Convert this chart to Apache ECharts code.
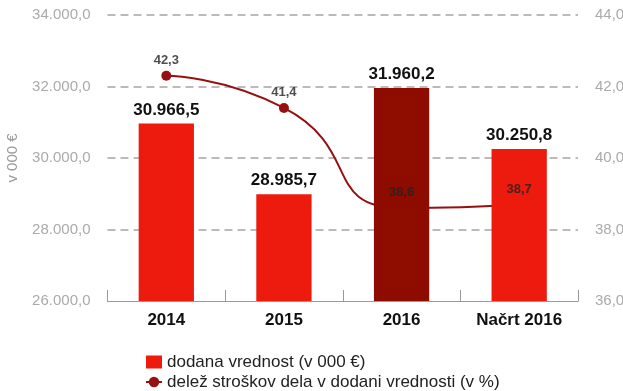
<!DOCTYPE html>
<html>
<head>
<meta charset="utf-8">
<script src="https://cdn.jsdelivr.net/npm/echarts@6/dist/echarts.min.js"></script>
<style>
  html, body { margin: 0; padding: 0; background: #fff; }
  #chart { width: 623px; height: 391px; }
</style>
</head>
<body>
<div id="chart"></div>
<script>
// Categories and series values
const categories = ['2014', '2015', '2016', 'Načrt 2016'];
const addedValue = [30966.5, 28985.7, 31960.2, 30250.8];
const laborShare = [42.3, 41.4, 38.6, 38.7];
const barColors = ['#ec1b0e', '#ec1b0e', '#8e0b00', '#ec1b0e'];

const barName = 'dodana vrednost (v 000 €)';
const lineName = 'delež stroškov dela v dodani vrednosti (v %)';

// Slovenian number format: "." thousands, "," decimals
function fmt(v, dec) {
  const parts = v.toFixed(dec).split('.');
  parts[0] = parts[0].replace(/\B(?=(\d{3})+(?!\d))/g, '.');
  return parts.join(',');
}

const FONT = '"Liberation Sans", Arial, sans-serif';
const chart = echarts.init(document.getElementById('chart'));

chart.setOption({
  animation: false,
  textStyle: { fontFamily: FONT },
  grid: { left: 107.5, right: 45, top: 15, bottom: 90, outerBoundsMode: 'none' },
  legend: {
    orient: 'vertical',
    left: 145,
    top: 352,
    height: 60,
    padding: 0,
    itemGap: 0,
    itemWidth: 16,
    itemHeight: 13,
    textStyle: { fontSize: 17, lineHeight: 20, color: '#222', fontFamily: FONT },
    data: [
      { name: barName, icon: 'rect', itemStyle: { color: '#ec1b0e' } },
      { name: lineName }
    ]
  },
  xAxis: {
    type: 'category',
    data: categories,
    axisLine: { lineStyle: { color: '#999', width: 1 } },
    axisTick: { show: true, inside: true, length: 11, lineStyle: { color: '#999' } },
    axisLabel: { fontSize: 17, fontWeight: 'bold', color: '#111', margin: 11 }
  },
  yAxis: [
    {
      type: 'value',
      min: 26000, max: 34000, interval: 2000,
      name: 'v 000 €',
      nameLocation: 'middle',
      nameGap: 87,
      nameRotate: 90,
      nameTextStyle: { color: '#999', fontSize: 15 },
      axisLine: { show: false },
      axisTick: { show: false },
      axisLabel: {
        color: '#aaa', fontSize: 15, margin: 17,
        formatter: v => fmt(v, 1)
      },
      splitLine: { showMinLine: false, lineStyle: { color: '#bbb', width: 2, type: [8, 5] } }
    },
    {
      type: 'value',
      min: 36, max: 44, interval: 2,
      position: 'right',
      axisLine: { show: false },
      axisTick: { show: false },
      axisLabel: {
        color: '#aaa', fontSize: 15, margin: 17,
        formatter: v => fmt(v, 1)
      },
      splitLine: { show: false }
    }
  ],
  series: [
    {
      name: lineName,
      type: 'line',
      yAxisIndex: 1,
      z: 1,
      smooth: 0.6,
      data: laborShare,
      symbol: 'circle',
      symbolSize: 10,
      lineStyle: { color: '#951010', width: 2 },
      itemStyle: { color: '#951010' },
      label: { show: false }
    },
    {
      name: barName,
      type: 'bar',
      yAxisIndex: 0,
      z: 2,
      barWidth: '47%',
      data: addedValue.map((v, i) => ({ value: v, itemStyle: { color: barColors[i] } })),
      label: {
        show: true,
        position: 'top',
        distance: 5,
        fontSize: 17,
        fontWeight: 'bold',
        color: '#111',
        formatter: p => fmt(p.value, 1)
      }
    },
    {
      // value labels for the share line, kept above the bars
      name: 'labels',
      type: 'scatter',
      yAxisIndex: 1,
      z: 3,
      symbolSize: 0,
      silent: true,
      data: laborShare,
      label: {
        show: true,
        position: 'top',
        distance: 9,
        fontSize: 13,
        fontWeight: 'bold',
        color: '#222',
        formatter: p => fmt(p.value, 1)
      }
    }
  ]
});
</script>
</body>
</html>
